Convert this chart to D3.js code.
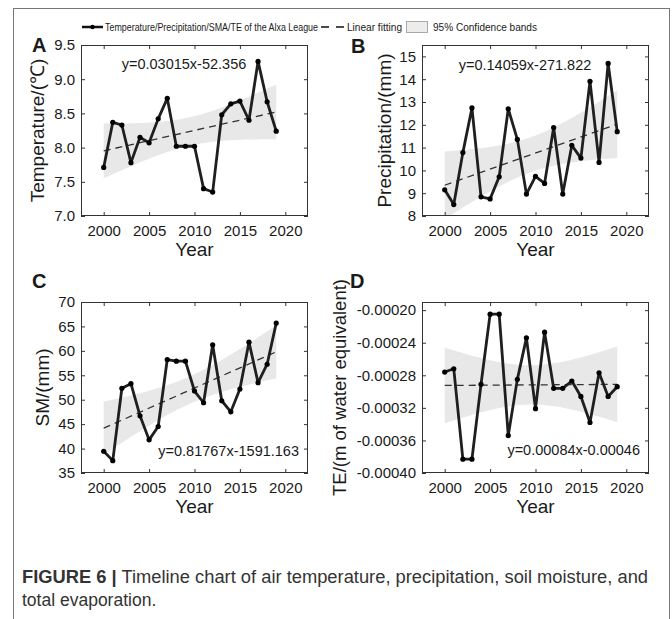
<!DOCTYPE html>
<html>
<head>
<meta charset="utf-8">
<script src="https://cdn.jsdelivr.net/npm/d3@7"></script>
<style>
body { margin: 0; background: #fff; }
svg text { font-family: "Liberation Sans", Arial, sans-serif; fill: #1a1a1a; }
</style>
</head>
<body>
<svg id="fig" width="672" height="619"></svg>
<script>
// values, one per year
var years = [2000, 2001, 2002, 2003, 2004, 2005, 2006, 2007, 2008, 2009,
             2010, 2011, 2012, 2013, 2014, 2015, 2016, 2017, 2018, 2019];
var temperature = [7.71, 8.37, 8.33, 7.78, 8.15, 8.07, 8.42, 8.72, 8.02, 8.02,
                   8.02, 7.40, 7.35, 8.48, 8.64, 8.68, 8.40, 9.26, 8.67, 8.24];
var precipitation = [9.15, 8.50, 10.78, 12.74, 8.84, 8.75, 9.72, 12.70, 11.36, 8.96,
                     9.74, 9.43, 11.88, 8.96, 11.10, 10.54, 13.91, 10.35, 14.69, 11.70];
var soilMoisture = [39.45, 37.53, 52.33, 53.29, 46.71, 41.78, 44.52, 58.22, 57.88, 57.88,
                    51.78, 49.38, 61.23, 49.79, 47.53, 52.19, 61.78, 53.49, 57.26, 65.68];
var evaporation = [-0.000276, -0.000272, -0.000383, -0.000383, -0.000291, -0.000205, -0.000205, -0.000354, -0.000285, -0.000234,
                   -0.000321, -0.000227, -0.000296, -0.000296, -0.000287, -0.000306, -0.000338, -0.000277, -0.000306, -0.000294];

var xTicks = [2000, 2005, 2010, 2015, 2020];
var tempTicks = [7.0, 7.5, 8.0, 8.5, 9.0, 9.5];
var precTicks = [8, 9, 10, 11, 12, 13, 14, 15];
var smTicks = [35, 40, 45, 50, 55, 60, 65, 70];
var teTicks = [-0.0004, -0.00036, -0.00032, -0.00028, -0.00024, -0.0002];

var equations = ["y=0.03015x-52.356", "y=0.14059x-271.822", "y=0.81767x-1591.163", "y=0.00084x-0.00046"];
var yTitles = ["Temperature/(\u2103)", "Precipitation/(mm)", "SM/(mm)", "TE/(m of water equivalent)"];
var panelLetters = ["A", "B", "C", "D"];

var svg = d3.select("#fig");

// frame round figure + caption
svg.append("rect")
    .attr("x", 13.5).attr("y", 8.5)
    .attr("width", 656).attr("height", 700)
    .attr("fill", "none").attr("stroke", "#777").attr("stroke-width", 1);

var panels = [
  {values: temperature, ticks: tempTicks, domain: [7, 9.5], fmt: d3.format(".1f"),
   left: 81, top: 45, eqX: 184, eqY: 64, eqAnchor: "middle", titleX: 37, letterX: 32, letterY: 52},
  {values: precipitation, ticks: precTicks, domain: [8, 15.5], fmt: d3.format("d"),
   left: 422, top: 45, eqX: 525, eqY: 65, eqAnchor: "middle", titleX: 384, letterX: 351, letterY: 53},
  {values: soilMoisture, ticks: smTicks, domain: [35, 70], fmt: d3.format("d"),
   left: 81, top: 302, eqX: 299, eqY: 451, eqAnchor: "end", titleX: 42, letterX: 32, letterY: 288},
  {values: evaporation, ticks: teTicks, domain: [-0.0004, -0.00019], fmt: function(d) { return d.toFixed(5); },
   left: 422, top: 302, eqX: 640, eqY: 450, eqAnchor: "end", titleX: 340, letterX: 350, letterY: 288}
];

var pw = 227, ph = 171;

// ordinary least squares with 95% confidence band of the mean
function fit(xs, ys) {
  var n = xs.length, mx = d3.mean(xs), my = d3.mean(ys);
  var sxx = d3.sum(xs, function(x) { return (x - mx) * (x - mx); });
  var sxy = d3.sum(xs, function(x, i) { return (x - mx) * (ys[i] - my); });
  var b = sxy / sxx, a = my - b * mx;
  var sse = d3.sum(xs, function(x, i) { var r = ys[i] - (a + b * x); return r * r; });
  var s = Math.sqrt(sse / (n - 2));
  var t = 2.101;
  return {
    at: function(x) { return a + b * x; },
    half: function(x) { return t * s * Math.sqrt(1 / n + (x - mx) * (x - mx) / sxx); }
  };
}

panels.forEach(function(p, k) {
  var g = svg.append("g").attr("transform", "translate(" + p.left + "," + p.top + ")");

  var x = d3.scaleLinear().domain([1997.5, 2022.5]).range([0, pw]);
  var y = d3.scaleLinear().domain(p.domain).range([ph, 0]);

  g.append("clipPath").attr("id", "clip" + k)
    .append("rect").attr("width", pw).attr("height", ph);

  var f = fit(years, p.values);
  var bandX = d3.range(0, 96).map(function(i) { return 2000 + i * 19 / 95; });

  var plot = g.append("g").attr("clip-path", "url(#clip" + k + ")");

  plot.append("path")
      .datum(bandX)
      .attr("fill", "#e8e8e8")
      .attr("d", d3.area()
        .x(function(d) { return x(d); })
        .y0(function(d) { return y(f.at(d) - f.half(d)); })
        .y1(function(d) { return y(f.at(d) + f.half(d)); }));

  plot.append("line")
      .attr("x1", x(2000)).attr("x2", x(2019))
      .attr("y1", y(f.at(2000))).attr("y2", y(f.at(2019)))
      .attr("stroke", "#333").attr("stroke-width", 1.3)
      .attr("stroke-dasharray", "7,5");

  plot.append("path")
      .datum(p.values)
      .attr("fill", "none")
      .attr("stroke", "#1f1f1f")
      .attr("stroke-width", 2.8)
      .attr("stroke-linejoin", "round")
      .attr("d", d3.line()
        .x(function(d, i) { return x(years[i]); })
        .y(function(d) { return y(d); }));

  plot.selectAll("circle")
      .data(p.values)
      .enter().append("circle")
      .attr("cx", function(d, i) { return x(years[i]); })
      .attr("cy", function(d) { return y(d); })
      .attr("r", 2.6)
      .attr("fill", "#000");

  // axes, ticks pointing inward on all four sides
  g.append("g").attr("transform", "translate(0," + ph + ")")
      .call(d3.axisBottom(x).tickValues(xTicks).tickFormat(d3.format("d"))
        .tickSizeInner(-4).tickSizeOuter(0).tickPadding(9));
  g.append("g")
      .call(d3.axisTop(x).tickValues(xTicks).tickFormat("")
        .tickSizeInner(-4).tickSizeOuter(0));
  g.append("g")
      .call(d3.axisLeft(y).tickValues(p.ticks).tickFormat(p.fmt)
        .tickSizeInner(-4).tickSizeOuter(0).tickPadding(6));
  g.append("g").attr("transform", "translate(" + pw + ",0)")
      .call(d3.axisRight(y).tickValues(p.ticks).tickFormat("")
        .tickSizeInner(-4).tickSizeOuter(0));

  g.selectAll(".domain").remove();
  g.selectAll(".tick line").attr("stroke", "#333");
  g.selectAll(".tick text").attr("font-size", 15).attr("fill", "#1a1a1a")
      .attr("font-family", "Liberation Sans, Arial, sans-serif");

  g.append("rect")
      .attr("x", 0.5).attr("y", 0.5)
      .attr("width", pw - 1).attr("height", ph - 1)
      .attr("fill", "none").attr("stroke", "#333").attr("stroke-width", 1);

  g.append("text")
      .attr("x", p.eqX - p.left).attr("y", p.eqY - p.top)
      .attr("dy", "0.35em")
      .attr("text-anchor", p.eqAnchor)
      .attr("font-size", 14.5)
      .text(equations[k]);

  g.append("text")
      .attr("x", pw / 2).attr("y", ph + 40)
      .attr("text-anchor", "middle")
      .attr("font-size", 19)
      .text("Year");

  svg.append("text")
      .attr("transform", "translate(" + p.titleX + "," + (p.top + ph / 2) + ") rotate(-90)")
      .attr("dy", "0.35em")
      .attr("text-anchor", "middle")
      .attr("font-size", k === 3 ? 18.5 : 19)
      .text(yTitles[k]);

  svg.append("text")
      .attr("x", p.letterX).attr("y", p.letterY)
      .attr("font-size", 20)
      .attr("font-weight", "bold")
      .text(panelLetters[k]);
});

// legend
var ly = 27;
var legend = svg.append("g");
legend.append("line")
    .attr("x1", 82).attr("x2", 103).attr("y1", ly).attr("y2", ly)
    .attr("stroke", "#111").attr("stroke-width", 2.5);
legend.append("circle").attr("cx", 92.5).attr("cy", ly).attr("r", 2.2).attr("fill", "#000");
legend.append("text")
    .attr("x", 105).attr("y", ly).attr("dy", "0.35em")
    .attr("font-size", 10)
    .attr("textLength", 213).attr("lengthAdjust", "spacingAndGlyphs")
    .text("Temperature/Precipitation/SMA/TE of the Alxa League");
legend.append("line")
    .attr("x1", 321).attr("x2", 344).attr("y1", ly).attr("y2", ly)
    .attr("stroke", "#111").attr("stroke-width", 1.5)
    .attr("stroke-dasharray", "8,7");
legend.append("text")
    .attr("x", 347).attr("y", ly).attr("dy", "0.35em")
    .attr("font-size", 10)
    .attr("textLength", 55).attr("lengthAdjust", "spacingAndGlyphs")
    .text("Linear fitting");
legend.append("rect")
    .attr("x", 406.5).attr("y", ly - 5.5).attr("width", 21).attr("height", 11)
    .attr("fill", "#ececec").attr("stroke", "#aaa");
legend.append("text")
    .attr("x", 433).attr("y", ly).attr("dy", "0.35em")
    .attr("font-size", 10)
    .attr("textLength", 104).attr("lengthAdjust", "spacingAndGlyphs")
    .text("95% Confidence bands");

// caption
var cap1 = svg.append("text").attr("x", 22).attr("y", 583)
    .attr("font-size", 17.5).style("fill", "#333")
    .attr("textLength", 626).attr("lengthAdjust", "spacingAndGlyphs");
cap1.append("tspan").attr("font-weight", "bold").style("fill", "#333").text("FIGURE 6 |");
cap1.append("tspan").style("fill", "#333").text(" Timeline chart of air temperature, precipitation, soil moisture, and");
svg.append("text").attr("x", 22).attr("y", 606)
    .attr("font-size", 17.5).style("fill", "#333")
    .text("total evaporation.");
</script>
</body>
</html>
